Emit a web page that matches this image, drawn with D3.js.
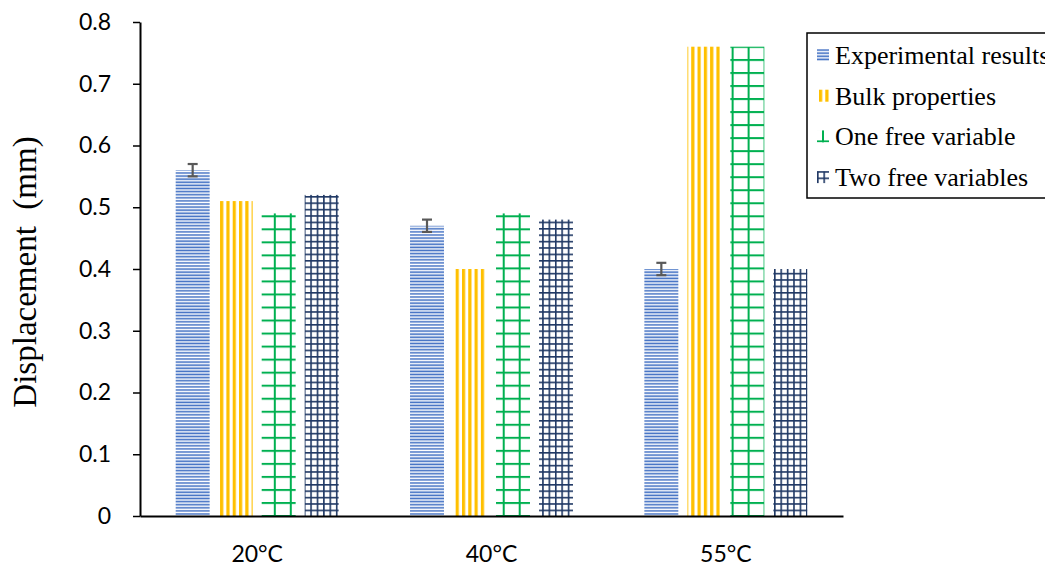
<!DOCTYPE html>
<html>
<head>
<meta charset="utf-8">
<script src="https://cdn.jsdelivr.net/npm/d3@7"></script>
<style>
  body { margin: 0; background: #fff; }
</style>
</head>
<body>
<div id="chart"></div>
<script>
// Data
const categories = ["20°C", "40°C", "55°C"];
const seriesNames = ["Experimental results", "Bulk properties", "One free variable", "Two free variables"];
const experimental = [0.56, 0.47, 0.40];
const bulk = [0.51, 0.40, 0.76];
const oneFree = [0.49, 0.49, 0.76];
const twoFree = [0.52, 0.48, 0.40];
const expError = [0.01, 0.01, 0.01];
const yTicks = [0, 0.1, 0.2, 0.3, 0.4, 0.5, 0.6, 0.7, 0.8];

const seriesValues = [experimental, bulk, oneFree, twoFree];
const colors = ["#4472C4", "#FFC000", "#00B050", "#1F3864"];

const W = 1045, H = 571;
const plot = { left: 140, right: 843, top: 22, bottom: 516 };

const svg = d3.select("#chart").append("svg")
    .attr("width", W)
    .attr("height", H);

const defs = svg.append("defs");

const x0 = d3.scaleBand().domain(categories).range([plot.left, plot.right]);
const x1 = d3.scaleBand().domain(seriesNames).range([0, x0.bandwidth()])
    .paddingInner(0.21).paddingOuter(0.83);
const y = d3.scaleLinear().domain([0, 0.8]).range([plot.bottom, plot.top]);

// Build a fill pattern for a series, anchored at (ox, oy)
function makePattern(id, s, ox, oy, bw) {
    const c = colors[s];
    const p = defs.append("pattern").attr("id", id)
        .attr("patternUnits", "userSpaceOnUse")
        .attr("x", ox).attr("y", oy);
    if (s === 0) {
        // horizontal thin lines
        p.attr("width", 4).attr("height", 3.1);
        p.append("rect").attr("width", 4).attr("height", 3.1).attr("fill", "#fff");
        p.append("rect").attr("y", 0.3).attr("width", 4).attr("height", 1.6).attr("fill", c);
    } else if (s === 1) {
        // vertical stripes
        p.attr("width", 6.3).attr("height", 10);
        p.append("rect").attr("width", 6.3).attr("height", 10).attr("fill", "#fff");
        p.append("rect").attr("width", 3.2).attr("height", 10).attr("fill", c);
    } else if (s === 2) {
        // large grid
        const pw = (bw - 2) / 2, ph = 13.03;
        p.attr("width", pw).attr("height", ph);
        p.append("rect").attr("width", pw).attr("height", ph).attr("fill", "#fff");
        p.append("rect").attr("width", 2).attr("height", ph).attr("fill", c);
        p.append("rect").attr("width", pw).attr("height", 2).attr("fill", c);
    } else {
        // small grid
        const cs = 6.4;
        p.attr("width", cs).attr("height", cs);
        p.append("rect").attr("width", cs).attr("height", cs).attr("fill", "#fff");
        p.append("rect").attr("width", 1.6).attr("height", cs).attr("fill", c);
        p.append("rect").attr("width", cs).attr("height", 1.6).attr("fill", c);
    }
    return `url(#${id})`;
}

// Y axis
const yAxis = svg.append("g")
    .attr("transform", `translate(${plot.left},0)`)
    .call(d3.axisLeft(y).tickValues(yTicks).tickSize(7).tickSizeOuter(0).tickPadding(22)
        .tickFormat(d => d === 0 ? "0" : d3.format(".1f")(d)));
yAxis.select(".domain").attr("stroke", "#000").attr("stroke-width", 2);
yAxis.selectAll(".tick line").attr("stroke", "#000").attr("stroke-width", 1.5);
yAxis.selectAll(".tick text")
    .style("font-family", "Lato, 'Open Sans', sans-serif")
    .style("font-size", "23px")
    .attr("fill", "#000");

// Bars
categories.forEach((cat, ci) => {
    const g = svg.append("g").attr("transform", `translate(${x0(cat)},0)`);
    seriesNames.forEach((name, s) => {
        const v = seriesValues[s][ci];
        const bx = x0(cat) + x1(name);
        const oy = s === 2 ? y(0) - 1 : y(0);
        const fill = makePattern(`p${ci}_${s}`, s, bx, oy, x1.bandwidth());
        g.append("rect")
            .attr("x", x1(name))
            .attr("y", y(v))
            .attr("width", x1.bandwidth())
            .attr("height", y(0) - y(v))
            .attr("fill", fill);
    });
    // Error bar on experimental results
    const ex = x1(seriesNames[0]) + x1.bandwidth() / 2;
    const v = experimental[ci], e = expError[ci];
    const eg = g.append("g").attr("stroke", "#595959").attr("stroke-width", 2.2);
    eg.append("line").attr("x1", ex).attr("x2", ex).attr("y1", y(v + e)).attr("y2", y(v - e));
    eg.append("line").attr("x1", ex - 5).attr("x2", ex + 5).attr("y1", y(v + e)).attr("y2", y(v + e));
    eg.append("line").attr("x1", ex - 5).attr("x2", ex + 5).attr("y1", y(v - e)).attr("y2", y(v - e));
});

// X axis
const xAxis = svg.append("g")
    .attr("transform", `translate(0,${plot.bottom})`)
    .call(d3.axisBottom(x0).tickSize(0).tickSizeOuter(0).tickPadding(30));
xAxis.select(".domain").attr("stroke", "#000").attr("stroke-width", 2);
xAxis.selectAll(".tick text")
    .style("font-family", "Lato, 'Open Sans', sans-serif")
    .style("font-size", "23px")
    .attr("fill", "#000");

// Y axis title
svg.append("text")
    .attr("transform", "translate(36,272) rotate(-90)")
    .attr("text-anchor", "middle")
    .style("font-family", "'Liberation Serif', 'Times New Roman', serif")
    .style("font-size", "33px")
    .attr("fill", "#000")
    .attr("xml:space", "preserve")
    .text("Displacement  (mm)");

// Legend
const legend = svg.append("g");
legend.append("rect")
    .attr("x", 807).attr("y", 33)
    .attr("width", 300).attr("height", 165)
    .attr("fill", "#fff")
    .attr("stroke", "#000").attr("stroke-width", 1.5);

seriesNames.forEach((name, s) => {
    const cy = 55 + s * 40.7;
    const sx = 817, sy = cy - 6;
    let fill;
    if (s === 2) fill = makePattern(`lg${s}`, s, sx + 5, sy + 10, 26);
    else fill = makePattern(`lg${s}`, s, s === 1 ? sx + 2 : sx, sy, 12);
    legend.append("rect")
        .attr("x", sx).attr("y", sy)
        .attr("width", 12).attr("height", 12)
        .attr("fill", fill);
    legend.append("text")
        .attr("x", 835).attr("y", cy + 9)
        .style("font-family", "'Liberation Serif', 'Times New Roman', serif")
        .style("font-size", "26px")
        .attr("fill", "#000")
        .text(name);
});
</script>
</body>
</html>
